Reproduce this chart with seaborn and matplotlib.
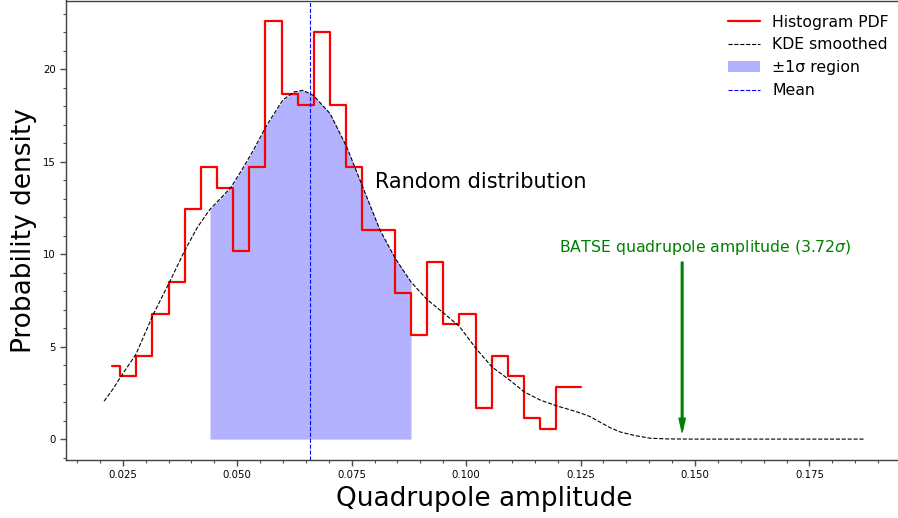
import matplotlib
matplotlib.use("Agg")
import matplotlib.pyplot as plt
import seaborn as sns
import numpy as np
import pandas as pd
from matplotlib.lines import Line2D
from matplotlib.patches import Patch
from matplotlib.ticker import MultipleLocator

# ---------------- data ----------------
bin_centers = [0.02265, 0.02618, 0.02971, 0.03324, 0.03677, 0.04030, 0.04383,
               0.04736, 0.05089, 0.05442, 0.05795, 0.06148, 0.06501, 0.06854,
               0.07207, 0.07560, 0.07913, 0.08266, 0.08619, 0.08972, 0.09325,
               0.09678, 0.10031, 0.10384, 0.10737, 0.11090, 0.11443, 0.11796,
               0.12149, 0.12502]
hist_density = [3.95, 3.39, 4.52, 6.78, 8.47, 12.43, 14.69, 13.56, 10.17, 14.69,
                22.60, 18.64, 18.08, 22.03, 18.08, 14.69, 11.30, 11.30, 7.91, 5.65,
                9.60, 6.21, 6.78, 1.69, 4.52, 3.39, 1.13, 0.56, 2.82, 2.82]

kde_x = [0.02092, 0.02282, 0.02441, 0.02791, 0.03168, 0.03518, 0.03845, 0.04130,
         0.04407, 0.04650, 0.04865, 0.05100, 0.05353, 0.05645, 0.06000, 0.06250,
         0.06432, 0.06663, 0.07028, 0.07393, 0.07742, 0.08120, 0.08454, 0.08797,
         0.09146, 0.09503, 0.09852, 0.10217, 0.10566, 0.10922, 0.11272, 0.11621,
         0.11979, 0.12250, 0.12488, 0.12707, 0.12925, 0.13143, 0.13362, 0.13690,
         0.14017, 0.14388, 0.15000, 0.16000, 0.17000, 0.18000, 0.18713]
kde_y = [2.05, 2.69, 3.31, 4.60, 6.75, 8.47, 10.15, 11.45,
         12.43, 13.05, 13.62, 14.55, 15.62, 16.97, 18.35, 18.78,
         18.86, 18.59, 17.61, 15.80, 13.64, 11.30, 9.77, 8.50,
         7.55, 6.83, 6.10, 4.90, 3.90, 3.25, 2.55, 2.11,
         1.80, 1.60, 1.42, 1.22, 0.92, 0.62, 0.39, 0.19,
         0.05, 0.01, 0.0, 0.0, 0.0, 0.0, 0.0]

mean_value = 0.0659
sigma_low, sigma_high = 0.0440, 0.0880
batse_value = 0.1472
arrow_tip, arrow_tail = 0.38, 9.57
batse_label = r"BATSE quadrupole amplitude (3.72$\sigma$)"

# ---------------- figure ----------------
sns.set_style("ticks")
plt.rcParams['font.family'] = ['DejaVu Sans']
plt.rcParams['text.color'] = 'black'
plt.rcParams['axes.labelcolor'] = 'black'
plt.rcParams['xtick.labelcolor'] = 'black'
plt.rcParams['ytick.labelcolor'] = 'black'

fig = plt.figure(figsize=(8.98, 5.18), dpi=100)
ax = fig.add_axes([66/898, 58/518, 837/898, 459.5/518])

hist_df = pd.DataFrame({"x": bin_centers, "y": hist_density})
kde_df = pd.DataFrame({"x": kde_x, "y": kde_y})

sns.lineplot(data=hist_df, x="x", y="y", ax=ax, color="red", lw=1.6,
             drawstyle="steps-mid", sort=False, estimator=None)
sns.lineplot(data=kde_df, x="x", y="y", ax=ax, color="black", lw=0.8,
             linestyle="--", sort=False, estimator=None)

kx = np.array(kde_x)
ky = np.array(kde_y)
mask = (kx >= sigma_low) & (kx <= sigma_high)
ax.fill_between(kx[mask], 0, ky[mask], color="blue", alpha=0.3, lw=0)
ax.axvline(mean_value, color="blue", lw=0.8, linestyle="--")

ax.text(0.0801, 13.9, "Random distribution", fontsize=15, va="center", ha="left",
        color="black")
ax.annotate("", xy=(batse_value, arrow_tip), xytext=(batse_value, arrow_tail),
            arrowprops=dict(facecolor="green", edgecolor="green", width=1.2,
                            headwidth=4.5, headlength=10, shrink=0))
ax.text(0.1522, 10.35, batse_label, color="green", fontsize=11.3,
        ha="center", va="center")

ax.set_xlim(0.01261, 0.19544)
ax.set_ylim(-1.13, 23.72)
ax.xaxis.set_major_locator(MultipleLocator(0.025))
ax.xaxis.set_minor_locator(MultipleLocator(0.005))
ax.yaxis.set_major_locator(MultipleLocator(5))
ax.yaxis.set_minor_locator(MultipleLocator(1))
ax.tick_params(axis="both", which="major", labelsize=7.3, direction="out",
               length=4, width=1, color="0.3", labelcolor="black")
ax.tick_params(axis="both", which="minor", direction="out", length=2.5,
               width=0.8, color="0.3")
for s in ax.spines.values():
    s.set_color("0.25")
    s.set_linewidth(1.0)

ax.set_xlabel("Quadrupole amplitude", fontsize=19, color="black")
ax.set_ylabel("Probability density", fontsize=19, color="black")

handles = [Line2D([], [], color="red", lw=1.6),
           Line2D([], [], color="black", lw=0.8, linestyle="--"),
           Patch(facecolor="blue", alpha=0.3, lw=0),
           Line2D([], [], color="blue", lw=0.8, linestyle="--")]
labels = ["Histogram PDF", "KDE smoothed", "\u00b11\u03c3 region", "Mean"]
leg = ax.legend(handles, labels, loc="upper right", frameon=False, fontsize=11.3)
for t in leg.get_texts():
    t.set_color("black")

fig.savefig("out.png", dpi=100)
